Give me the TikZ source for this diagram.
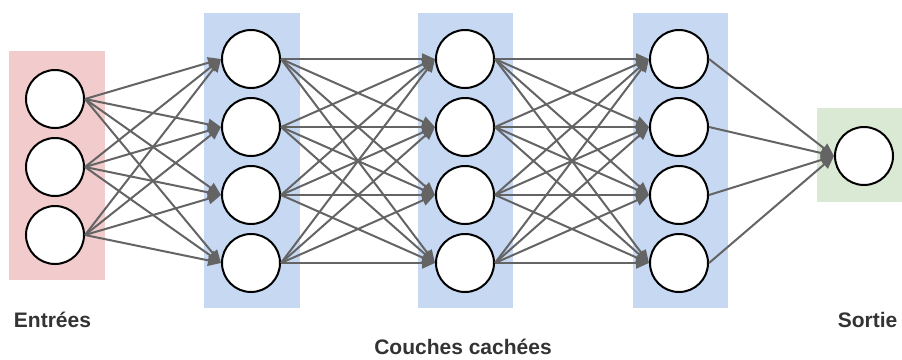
\documentclass[tikz,border=0pt]{standalone}
\usepackage{fontspec}
\setmainfont{Liberation Sans}
\usetikzlibrary{arrows.meta}
\definecolor{inpink}{RGB}{242,204,204}
\definecolor{hidblue}{RGB}{199,216,243}
\definecolor{outgreen}{RGB}{217,233,211}
\definecolor{edgegray}{RGB}{100,100,100}
\definecolor{labelgray}{RGB}{51,51,51}
\tikzset{
  neuron/.style={circle, draw=black, line width=2pt, fill=white, minimum size=58pt, inner sep=0pt},
  conn/.style={draw=edgegray, line width=2pt, -{Triangle[length=13pt,width=11pt]}},
  layerlabel/.style={font=\bfseries\fontsize{21}{24}\selectfont, text=labelgray, inner sep=0pt}
}
\begin{document}
\begin{tikzpicture}[x=1pt,y=-1pt]
\useasboundingbox (0,0) rectangle (902,359);
% layer backgrounds
\fill[inpink] (9,51) rectangle (105,280);
\fill[hidblue] (204,13) rectangle (300,308);
\fill[hidblue] (418,13) rectangle (513,308);
\fill[hidblue] (633,13) rectangle (728,308);
\fill[outgreen] (817,108) rectangle (902,202);
% neurons
\foreach \i/\y in {1/99,2/167,3/235} \node[neuron] (i\i) at (55,\y) {};
\foreach \i/\y in {1/59,2/127,3/195,4/263} {
  \node[neuron] (a\i) at (251,\y) {};
  \node[neuron] (b\i) at (465,\y) {};
  \node[neuron] (c\i) at (679,\y) {};
}
\node[neuron] (o) at (864,156) {};
% connections
\foreach \s in {1,2,3} \foreach \t in {1,2,3,4} \draw[conn] (i\s.east) -- (a\t.west);
\foreach \s in {1,2,3,4} \foreach \t in {1,2,3,4} {
  \draw[conn] (a\s.east) -- (b\t.west);
  \draw[conn] (b\s.east) -- (c\t.west);
}
\foreach \s in {1,2,3,4} \draw[conn] (c\s.east) -- (o.west);
% labels
\node[layerlabel] (lin) at (52.5,320) {Entrées};
\node[layerlabel] (lhid) at (463,347) {Couches cachées};
\node[layerlabel] (lout) at (867.5,320) {Sortie};
\end{tikzpicture}
\end{document}
